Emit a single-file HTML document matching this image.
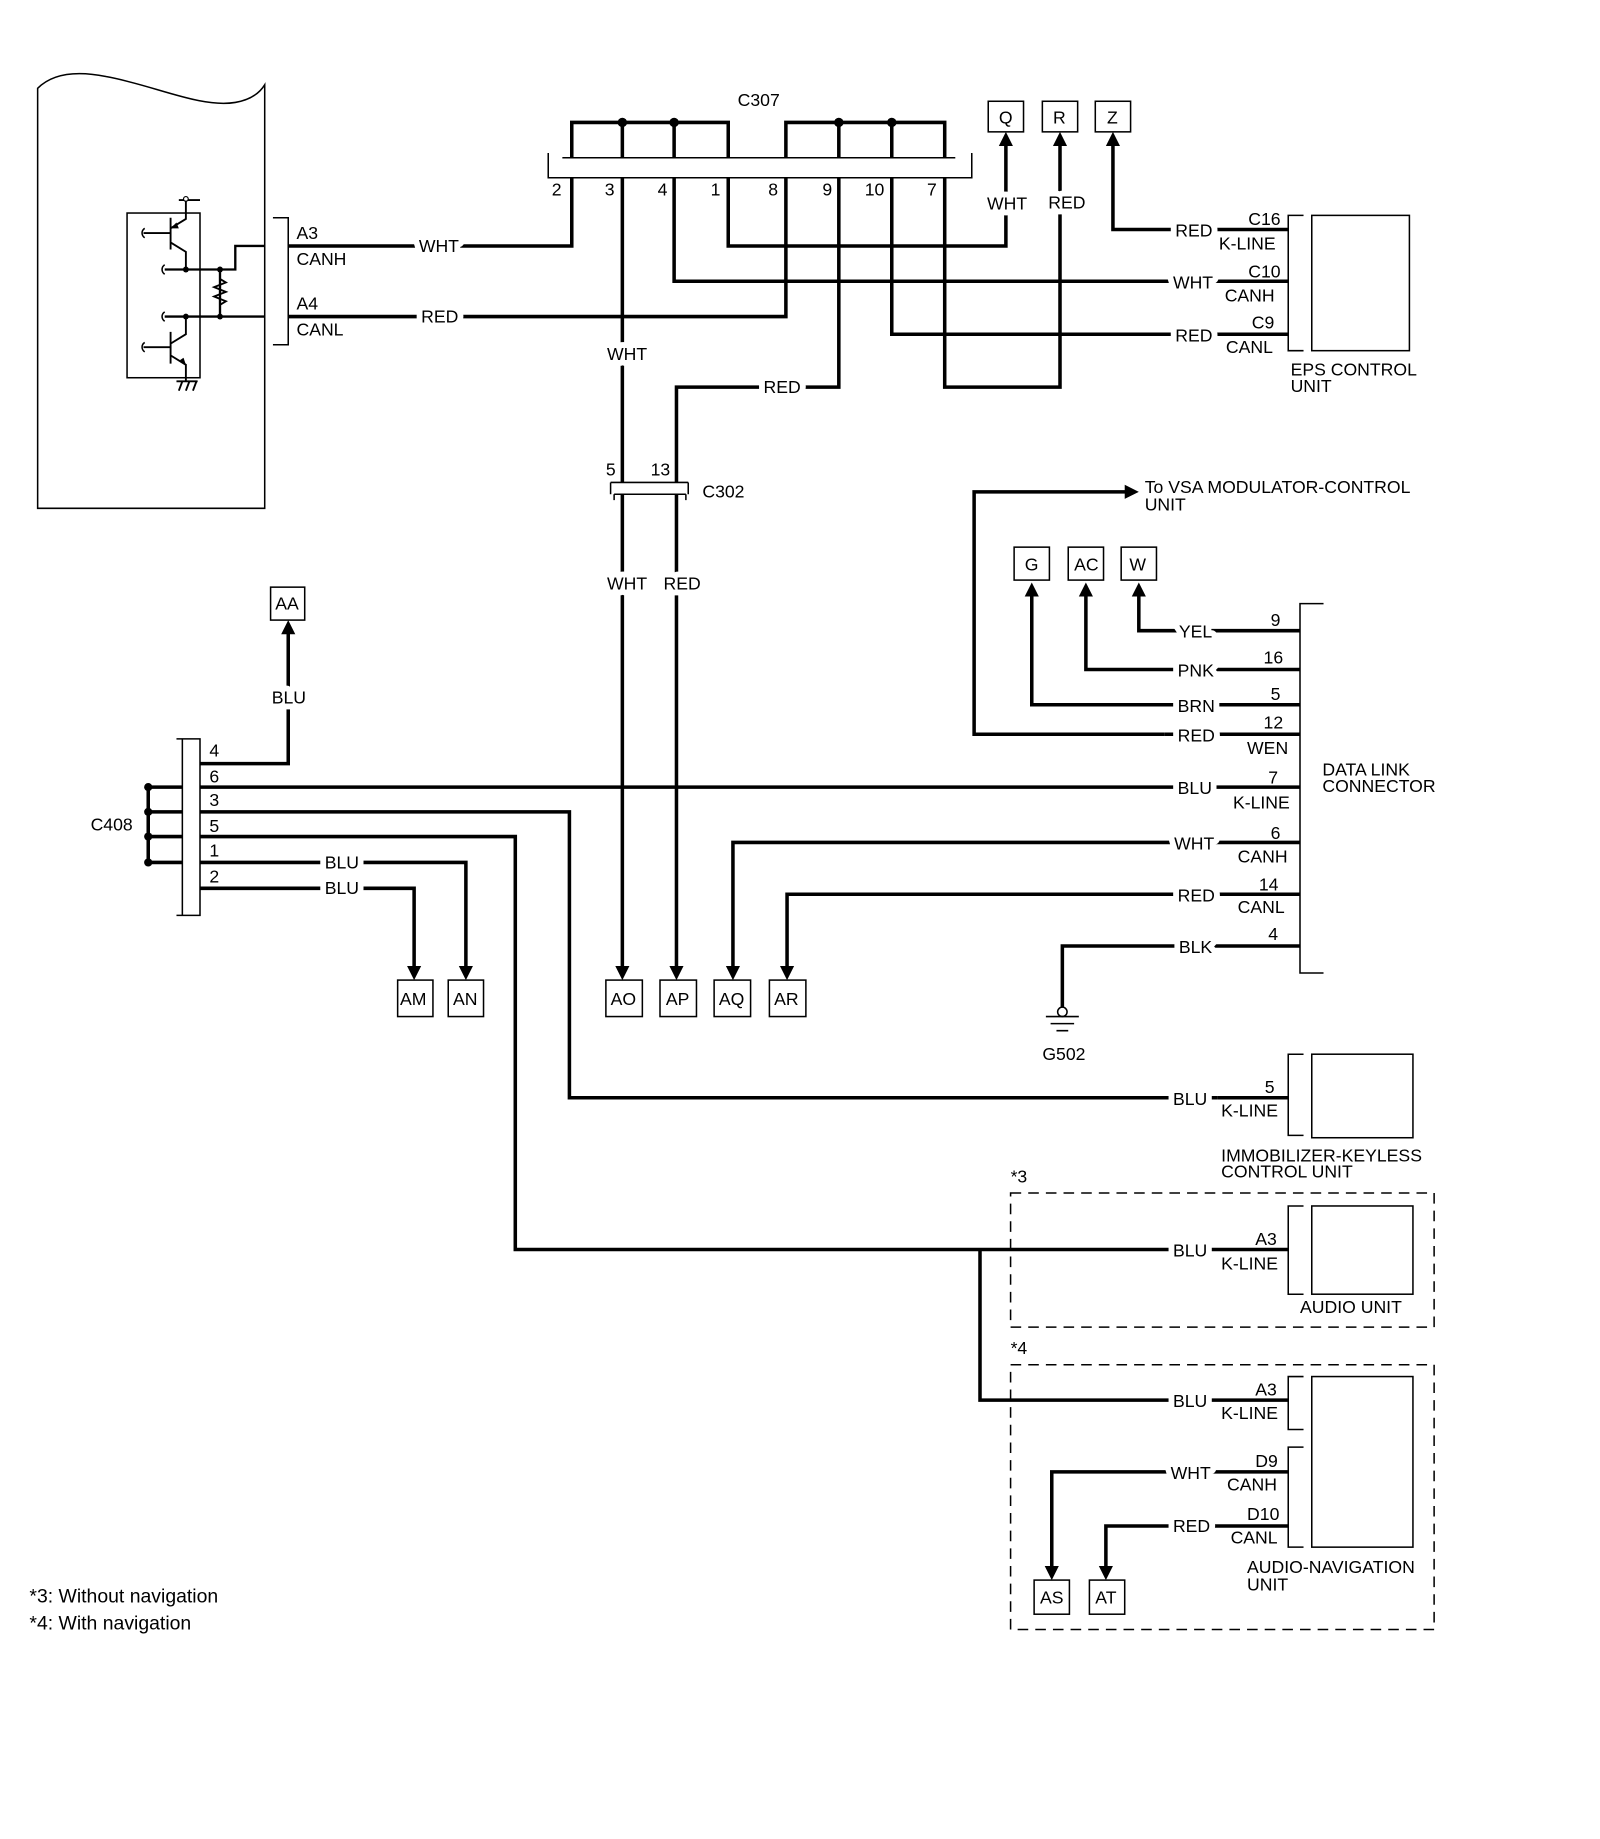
<!DOCTYPE html>
<html><head><meta charset="utf-8"><style>
html,body{margin:0;padding:0;background:#fff;}
svg{display:block;}
text{font-family:"Liberation Sans",Arial,sans-serif;font-size:15px;fill:#000;}
.l{paint-order:stroke;stroke:#fff;stroke-width:10px;stroke-linejoin:round;}
.w{fill:none;stroke:#000;stroke-width:3;}
.t{fill:none;stroke:#000;stroke-width:1.3;}
</style></head><body>
<svg width="1600" height="1839" viewBox="0 0 1360 1563" xmlns="http://www.w3.org/2000/svg">
<!-- left module -->
<path class="t" d="M32,432 L32,75 C45,62 65,60 90,65 C130,72 170,92 200,87 C212,85 220,80 225,72 L225,432 Z"/>
<rect class="t" x="108" y="181" width="62" height="140"/>
<path class="t" d="M232,185 H245 V293 H232"/>
<path class="w" style="stroke-width:2" d="M225,209 H200 V229 H140 M225,269 H140 M187,229 V269"/>
<path class="t" style="stroke-width:1.6" d="M158,169 V181 M158,181 V186 L145,194 M145,206 L158,214 V229 M158,269 V284 L145,292 M145,302 L158,310 V324 M145,185 V212 M145,282 V309 M122,198 H145 M122,295 H145 M152,170 H170 M150,324 H168 M152,332 L155,324 M158,332 L161,324 M164,332 L167,324 M187,237 l5,3 l-10,4 l10,4 l-10,4 l10,4 l-5,3"/>
<path class="t" d="M123,194 c-3,2 -3,6 0,8 M140,225 c-3,2 -3,6 0,8 M140,265 c-3,2 -3,6 0,8 M123,291 c-3,2 -3,6 0,8"/>
<path d="M150,189 l-5,5 l7,0 Z M153,306 l5,4 l-2,-6 Z"/>
<circle cx="158" cy="169" r="2" fill="#fff" stroke="#000"/>
<circle cx="158" cy="229" r="2.5"/><circle cx="187" cy="229" r="2.5"/><circle cx="158" cy="269" r="2.5"/><circle cx="187" cy="269" r="2.5"/>
<text x="252" y="203">A3</text><text x="252" y="225">CANH</text><text x="252" y="263">A4</text><text x="252" y="285">CANL</text>
<!-- C307 -->
<text x="627" y="90">C307</text>
<path class="w" d="M486,134 V104 H619 V134 M529,104 V134 M573,104 V134 M668,134 V104 H803 V134 M713,104 V134 M758,104 V134"/>
<circle cx="529" cy="104" r="4"/><circle cx="573" cy="104" r="4"/><circle cx="713" cy="104" r="4"/><circle cx="758" cy="104" r="4"/>
<path class="t" d="M478,134 H812 M466,130 V151 H826 V130"/>
<text x="469" y="166">2</text><text x="514" y="166">3</text><text x="559" y="166">4</text><text x="604" y="166">1</text><text x="653" y="166">8</text><text x="699" y="166">9</text><text x="735" y="166">10</text><text x="788" y="166">7</text>
<!-- wires -->
<path class="w" d="M245,209 H486 V151"/>
<path class="w" d="M245,269 H668 V151"/>
<path class="w" d="M529,151 V410"/>
<path class="w" d="M573,151 V239 H1095"/>
<path class="w" d="M619,151 V209 H855 V122"/>
<path class="w" d="M713,151 V329 H575 V410"/>
<path class="w" d="M758,151 V284 H1095"/>
<path class="w" d="M803,151 V329 H901 V122"/>
<path class="w" d="M946,122 V195 H1095"/>
<path d="M849,124 L855,112 L861,124 Z M895,124 L901,112 L907,124 Z M940,124 L946,112 L952,124 Z"/>
<text class="l" x="356" y="214">WHT</text><text class="l" x="358" y="274">RED</text>
<text class="l" x="516" y="306">WHT</text><text class="l" x="649" y="334">RED</text>
<text class="l" x="839" y="178">WHT</text><text class="l" x="891" y="177">RED</text>
<text class="l" x="999" y="201">RED</text><text class="l" x="997" y="245">WHT</text><text class="l" x="999" y="290">RED</text>
<rect class="t" x="840" y="86" width="30" height="26"/><text x="849" y="105">Q</text>
<rect class="t" x="886" y="86" width="30" height="26"/><text x="895" y="105">R</text>
<rect class="t" x="931" y="86" width="30" height="26"/><text x="941" y="105">Z</text>
<!-- EPS -->
<path class="t" d="M1108,183 H1095 V298 H1108"/><rect class="t" x="1115" y="183" width="83" height="115"/>
<text x="1061" y="191">C16</text><text x="1036" y="212">K-LINE</text>
<text x="1061" y="236">C10</text><text x="1041" y="256">CANH</text>
<text x="1064" y="279">C9</text><text x="1042" y="300">CANL</text>
<text x="1097" y="319">EPS CONTROL</text><text x="1097" y="333">UNIT</text>
<!-- C302 -->
<path class="t" d="M519,410 H585 M519,410 V420 M585,410 V420 M522,420 H583 M522,420 V425 M583,420 V425"/>
<text x="515" y="404">5</text><text x="553" y="404">13</text><text x="597" y="423">C302</text>
<path class="w" d="M529,420 V822 M575,420 V822"/>
<text class="l" x="516" y="501">WHT</text><text class="l" x="564" y="501">RED</text>
<!-- VSA -->
<path class="w" d="M990,624 H828 V418 H958"/><path d="M956,412 L968,418 L956,424 Z"/>
<text x="973" y="419">To VSA MODULATOR-CONTROL</text><text x="973" y="434">UNIT</text>
<rect class="t" x="862" y="465" width="30" height="28"/><text x="871" y="485">G</text>
<rect class="t" x="908" y="465" width="30" height="28"/><text x="913" y="485">AC</text>
<rect class="t" x="953" y="465" width="30" height="28"/><text x="960" y="485">W</text>
<path class="w" d="M968,505 V536 H1105 M923,505 V569 H1105 M877,505 V599 H1105 M990,624 H1105"/>
<path d="M962,507 L968,495 L974,507 Z M917,507 L923,495 L929,507 Z M871,507 L877,495 L883,507 Z"/>
<text class="l" x="1002" y="542">YEL</text><text class="l" x="1001" y="575">PNK</text><text class="l" x="1001" y="605">BRN</text><text class="l" x="1001" y="630">RED</text>
<path class="t" d="M1125,513 H1105 V827 H1125"/>
<text x="1080" y="532">9</text><text x="1074" y="564">16</text><text x="1080" y="595">5</text><text x="1074" y="619">12</text><text x="1060" y="641">WEN</text>
<text x="1078" y="666">7</text><text x="1048" y="687">K-LINE</text><text x="1080" y="713">6</text><text x="1052" y="733">CANH</text>
<text x="1070" y="757">14</text><text x="1052" y="776">CANL</text><text x="1078" y="799">4</text>
<text x="1124" y="659">DATA LINK</text><text x="1124" y="673">CONNECTOR</text>
<!-- DLC wires -->
<path class="w" d="M170,669 H1105"/>
<path class="w" d="M623,822 V716 H1105 M669,822 V760 H1105"/>
<path class="w" d="M903,857 V804 H1105"/>
<text class="l" x="1001" y="675">BLU</text><text class="l" x="998" y="722">WHT</text><text class="l" x="1001" y="766">RED</text><text class="l" x="1002" y="810">BLK</text>
<circle cx="903" cy="860" r="4" fill="#fff" stroke="#000" stroke-width="1.3"/>
<path class="t" d="M889,864 H917 M893,870 H913 M898,876 H908"/>
<text x="886" y="901">G502</text>
<!-- bottom boxes -->
<path d="M523,821 L529,833 L535,821 Z M569,821 L575,833 L581,821 Z M617,821 L623,833 L629,821 Z M663,821 L669,833 L675,821 Z"/>
<rect class="t" x="515" y="833" width="31" height="31"/><text x="519" y="854">AO</text>
<rect class="t" x="561" y="833" width="31" height="31"/><text x="566" y="854">AP</text>
<rect class="t" x="607" y="833" width="31" height="31"/><text x="611" y="854">AQ</text>
<rect class="t" x="654" y="833" width="31" height="31"/><text x="658" y="854">AR</text>
<!-- C408 -->
<path class="t" d="M150,628 H155 V778 H150 M155,628 H170 V778 H155"/>
<text x="77" y="706">C408</text>
<path class="w" d="M155,669 H126 V733 M126,690 H155 M126,711 H155 M126,733 H155"/>
<circle cx="126" cy="669" r="3.5"/><circle cx="126" cy="690" r="3.5"/><circle cx="126" cy="711" r="3.5"/><circle cx="126" cy="733" r="3.5"/>
<text x="178" y="643">4</text><text x="178" y="665">6</text><text x="178" y="685">3</text><text x="178" y="707">5</text><text x="178" y="728">1</text><text x="178" y="750">2</text>
<path class="w" d="M170,649 H245 V537"/><path d="M239,539 L245,527 L251,539 Z"/>
<rect class="t" x="230" y="499" width="29" height="28"/><text x="234" y="518">AA</text>
<text class="l" x="231" y="598">BLU</text>
<path class="w" d="M170,690 H484 V933 H1035"/>
<path class="w" d="M170,711 H438 V1062 H1095 M833,1062 V1190 H1095"/>
<path class="w" d="M170,733 H396 V823 M170,755 H352 V823"/>
<path d="M390,821 L396,833 L402,821 Z M346,821 L352,833 L358,821 Z"/>
<text class="l" x="276" y="738">BLU</text><text class="l" x="276" y="760">BLU</text>
<rect class="t" x="338" y="833" width="30" height="31"/><text x="340" y="854">AM</text>
<rect class="t" x="381" y="833" width="30" height="31"/><text x="385" y="854">AN</text>
<!-- immobilizer -->
<path class="w" d="M1035,933 H1095"/>
<text class="l" x="997" y="939">BLU</text>
<path class="t" d="M1108,896 H1095 V965 H1108"/><rect class="t" x="1115" y="896" width="86" height="71"/>
<text x="1075" y="929">5</text><text x="1038" y="949">K-LINE</text>
<text x="1038" y="987">IMMOBILIZER-KEYLESS</text><text x="1038" y="1001">CONTROL UNIT</text>
<!-- *3 -->
<text x="859" y="1005">*3</text>
<rect x="859" y="1014" width="360" height="114" fill="none" stroke="#000" stroke-width="1.3" stroke-dasharray="9,6"/>
<text class="l" x="997" y="1068">BLU</text>
<path class="t" d="M1108,1025 H1095 V1100 H1108"/><rect class="t" x="1115" y="1025" width="86" height="75"/>
<text x="1067" y="1058">A3</text><text x="1038" y="1079">K-LINE</text><text x="1105" y="1116">AUDIO UNIT</text>
<!-- *4 -->
<text x="859" y="1151">*4</text>
<rect x="859" y="1160" width="360" height="225" fill="none" stroke="#000" stroke-width="1.3" stroke-dasharray="9,6"/>
<text class="l" x="997" y="1196">BLU</text>
<path class="t" d="M1108,1170 H1095 V1215 H1108 M1108,1230 H1095 V1315 H1108"/><rect class="t" x="1115" y="1170" width="86" height="145"/>
<text x="1067" y="1186">A3</text><text x="1038" y="1206">K-LINE</text>
<text x="1067" y="1247">D9</text><text x="1043" y="1267">CANH</text>
<text x="1060" y="1292">D10</text><text x="1046" y="1312">CANL</text>
<text x="1060" y="1337">AUDIO-NAVIGATION</text><text x="1060" y="1352">UNIT</text>
<path class="w" d="M894,1331 V1251 H1095 M940,1331 V1297 H1095"/>
<path d="M888,1331 L894,1343 L900,1331 Z M934,1331 L940,1343 L946,1331 Z"/>
<text class="l" x="995" y="1257">WHT</text><text class="l" x="997" y="1302">RED</text>
<rect class="t" x="879" y="1343" width="30" height="29"/><text x="884" y="1363">AS</text>
<rect class="t" x="926" y="1343" width="30" height="29"/><text x="931" y="1363">AT</text>
<!-- footnotes -->
<text x="25" y="1362" style="font-size:16.5px">*3: Without navigation</text>
<text x="25" y="1385" style="font-size:16.5px">*4: With navigation</text>
</svg>
</body></html>
